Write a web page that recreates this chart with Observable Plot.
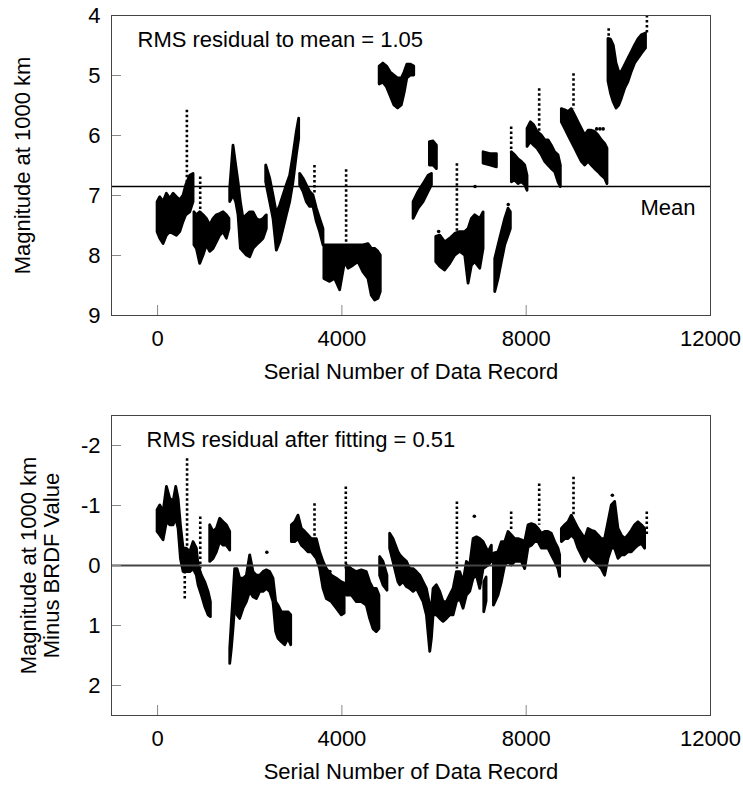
<!DOCTYPE html>
<html><head><meta charset="utf-8">
<script src="https://cdn.jsdelivr.net/npm/d3@7"></script>
<script src="https://cdn.jsdelivr.net/npm/@observablehq/plot@0.6"></script>
<style>
html,body{margin:0;padding:0;background:#fff;}
#chart svg{display:block;}
</style>
</head><body><div id="chart"></div>
<script>
// ---- axes / labels ----
const xDomain = [-1000, 12000];
const xTicks = [0, 4000, 8000, 12000];
const topYDomain = [9, 4];
const topYTicks = [4, 5, 6, 7, 8, 9];
const bottomYDomain = [2.5, -2.5];
const bottomYTicks = [-2, -1, 0, 1, 2];
const xTitle = "Serial Number of Data Record";
const topYTitle = "Magnitude at 1000 km";
const bottomYTitle = "Magnitude at 1000 km\nMinus BRDF Value";
const topNote = "RMS residual to mean = 1.05";
const bottomNote = "RMS residual after fitting = 0.51";
const meanLabel = "Mean";
const meanMagnitude = 6.85;
const zeroResidual = 0;

// ---- top panel: [segment, serial, upper magnitude, lower magnitude] ----
const topBands = [
  [1,0,7.11,7.61],[1,58,7.03,7.72],[1,130,7.11,7.81],[1,202,6.97,7.67],[1,275,7.06,7.61],[1,347,6.97,7.64],
  [1,419,7.03,7.67],[1,492,7.08,7.61],[1,564,7.0,7.44],[1,622,6.83,7.33],[1,709,6.67,7.28],[1,781,6.64,7.11],
  [2,800,7.28,7.83],[2,853,7.33,7.89],[2,925,7.28,8.14],[2,998,7.33,8.0],[2,1070,7.39,7.83],[2,1142,7.5,7.94],
  [2,1215,7.39,7.89],[2,1287,7.33,7.78],[2,1359,7.31,7.67],[2,1432,7.28,7.61],[2,1504,7.33,7.72],[2,1560,7.39,7.56],
  [3,1576,6.89,7.11],[3,1648,6.17,7.0],[3,1706,6.5,7.11],[3,1757,6.78,7.33],[3,1808,7.11,7.89],[3,1865,7.39,7.94],
  [3,1938,7.33,8.0],[3,2010,7.28,8.03],[3,2082,7.28,7.89],[3,2155,7.39,7.83],[3,2227,7.42,7.78],[3,2299,7.39,7.72],[3,2371,7.33,7.56],
  [4,2357,6.5,6.78],[4,2444,6.72,7.11],[4,2516,7.0,7.39],[4,2588,7.3,7.92],[4,2661,7.17,7.78],[4,2733,7.0,7.56],
  [4,2805,6.83,7.33],[4,2878,6.67,7.11],[4,2950,6.33,6.78],[4,3022,5.94,6.33],[4,3073,5.72,6.06],
  [5,3094,6.64,6.83],[5,3167,6.72,6.94],[5,3239,6.83,7.11],[5,3311,6.94,7.19],[5,3384,7.0,7.19],[5,3456,7.22,7.44],
  [5,3528,7.39,7.61],[5,3601,7.56,7.83],
  [6,3620,7.83,8.39],[6,3745,7.83,8.44],[6,3854,7.83,8.39],[6,3962,7.83,8.58],[6,4070,7.83,8.11],[6,4143,7.83,8.22],
  [6,4251,7.83,8.17],[6,4360,7.83,8.11],[6,4468,7.83,8.28],[6,4577,7.81,8.39],[6,4649,7.89,8.67],[6,4721,7.89,8.75],
  [6,4793,7.94,8.72],[6,4844,8.0,8.61],
  [7,4820,4.85,5.15],[7,4900,4.8,5.12],[7,4980,4.85,5.2],[7,5060,4.95,5.35],[7,5140,5.0,5.5],[7,5220,5.05,5.55],
  [7,5300,5.05,5.5],[7,5360,4.95,5.3],[7,5420,4.82,5.05],[7,5500,4.82,5.0],[7,5570,4.85,5.0],
  [8,5556,7.11,7.39],[8,5665,6.94,7.22],[8,5773,6.81,7.11],[8,5882,6.67,6.94],[8,5954,6.64,6.83],
  [9,5910,6.11,6.5],[9,5990,6.1,6.5],[9,6062,6.17,6.56],
  [10,6048,7.69,8.11],[10,6135,7.67,8.19],[10,6243,7.78,8.25],[10,6352,7.72,8.14],[10,6460,7.64,8.0],[10,6568,7.61,7.94],
  [10,6677,7.61,8.0],[10,6749,7.56,8.47],[10,6821,7.39,8.17],[10,6894,7.33,8.11],[10,7002,7.39,8.22],[10,7075,7.28,7.89],
  [11,7075,6.28,6.47],[11,7220,6.31,6.5],[11,7364,6.31,6.53],
  [12,7328,8.06,8.61],[12,7400,7.83,8.39],[12,7472,7.61,8.11],[12,7545,7.39,7.83],[12,7617,7.22,7.67],[12,7667,7.28,7.56],
  [13,7689,6.28,6.78],[13,7761,6.33,6.75],[13,7834,6.4,6.81],[13,7906,6.44,6.78],[13,7978,6.5,6.83],[13,8029,6.67,6.92],
  [14,8029,5.89,6.19],[14,8101,5.78,6.11],[14,8174,5.83,6.17],[14,8246,5.94,6.22],[14,8340,6.0,6.33],[14,8412,6.08,6.44],
  [14,8484,6.08,6.5],[14,8556,6.17,6.56],[14,8629,6.28,6.61],[14,8701,6.33,6.78],[14,8752,6.5,6.86],
  [15,8774,5.56,5.78],[15,8846,5.58,5.89],[15,8918,5.61,6.0],[15,8990,5.56,6.11],[15,9063,5.67,6.22],[15,9135,5.78,6.33],
  [15,9207,5.89,6.44],[15,9280,6.0,6.5],[15,9352,5.92,6.44],[15,9424,5.92,6.5],[15,9497,5.94,6.56],[15,9569,6.0,6.61],
  [15,9641,6.08,6.67],[15,9713,6.14,6.72],[15,9764,6.22,6.81],
  [16,9786,4.39,5.1],[16,9840,4.4,5.3],[16,9900,4.5,5.45],[16,9960,4.8,5.55],[16,10020,4.95,5.5],[16,10075,4.94,5.39],
  [16,10147,4.83,5.22],[16,10219,4.72,5.11],[16,10292,4.61,4.94],[16,10364,4.5,4.8],[16,10436,4.4,4.72],
  [16,10509,4.33,4.64],[16,10600,4.3,4.55]
];
// sparse dotted streaks: [serial, upper, lower]
const topStreaks = [
  [636,5.58,6.9],[925,6.69,7.3],[3405,6.5,7.0],[4092,6.57,7.83],[6496,6.47,7.6],[7674,5.86,6.3],
  [8282,5.22,6.0],[9027,4.97,5.56],[9790,4.22,4.4],[10620,4.0,4.3]
];
const topDots = [[6890,6.85],[9530,5.89],[9600,5.89],[9670,5.89],[7610,7.15],[6100,7.6]];

// ---- bottom panel: [segment, serial, upper residual, lower residual] ----
const bottomBands = [
  [1,0,-0.92,-0.56],[1,58,-1.0,-0.5],[1,130,-0.89,-0.42],[1,203,-1.31,-0.72],[1,275,-1.11,-0.67],[1,347,-1.06,-0.67],
  [1,405,-1.31,-0.78],[1,456,-1.11,-0.61],[1,507,-0.67,-0.11],[1,564,-0.28,0.11],[1,636,-0.28,0.11],[1,709,-0.22,0.11],
  [1,781,-0.39,0.06],[1,853,-0.28,0.17],[1,889,0,0.33],[1,962,0.17,0.5],[1,1034,0.28,0.69],[1,1106,0.44,0.83],[1,1157,0.61,0.86],
  [2,1142,-0.67,-0.06],[2,1215,-0.56,-0.11],[2,1287,-0.61,-0.22],[2,1359,-0.78,-0.39],[2,1432,-0.72,-0.33],
  [2,1504,-0.67,-0.33],[2,1576,-0.56,-0.25],
  [3,1577,1.39,1.64],[3,1612,0.94,1.39],[3,1648,0.5,1.06],[3,1684,0.06,0.67],[3,1735,0.06,0.83],[3,1793,0.22,0.89],
  [3,1865,0.22,0.72],[3,1938,0.17,0.61],[3,2010,-0.17,0.44],[3,2082,0.11,0.53],[3,2155,0.17,0.56],[3,2227,0.17,0.44],
  [3,2299,0.11,0.44],[3,2371,0.08,0.39],[3,2444,0.11,0.44],[3,2516,0.22,0.61],[3,2574,0.61,1.11],[3,2624,0.67,1.22],
  [3,2697,0.78,1.28],[3,2769,0.78,1.33],[3,2841,0.78,1.22],[3,2900,0.83,1.33],
  [4,2914,-0.67,-0.39],[4,2986,-0.72,-0.39],[4,3058,-0.83,-0.44],[4,3131,-0.61,-0.33],[4,3203,-0.56,-0.28],
  [4,3275,-0.5,-0.22],[4,3348,-0.44,-0.22],[4,3456,-0.44,-0.11],[4,3528,-0.22,0.06],[4,3601,-0.06,0.39],
  [4,3673,0.06,0.56],[4,3782,0.17,0.61],[4,3890,0.22,0.72],[4,3999,0.28,0.83],[4,4060,0.3,0.8],
  [5,4107,0,0.5],[5,4215,0.06,0.5],[5,4324,0.11,0.61],[5,4432,0.08,0.61],[5,4541,0.11,0.67],[5,4613,0.28,0.89],
  [5,4685,0.39,1.06],[5,4757,0.39,1.11],[5,4815,0.5,1.06],
  [6,4830,-0.14,0.17],[6,4902,-0.06,0.33],[6,4989,0.17,0.42],
  [7,5047,-0.53,-0.28],[7,5119,-0.44,-0.06],[7,5228,-0.22,0.28],[7,5267,-0.17,0.33],[7,5339,-0.11,0.28],
  [7,5412,-0.06,0.36],[7,5484,0.06,0.39],[7,5556,0.06,0.44],[7,5628,0.11,0.39],[7,5701,0.17,0.5],[7,5773,0.28,0.61],
  [7,5845,0.39,0.83],[7,5918,0.67,1.44],[7,5954,0.72,1.22],[7,5990,0.39,0.83],[7,6062,0.33,0.83],[7,6135,0.44,0.89],
  [7,6207,0.61,0.94],[7,6280,0.61,0.89],[7,6352,0.5,0.83],[7,6424,0.39,0.83],[7,6496,0.11,0.61],[7,6568,0.11,0.56],
  [7,6641,0.28,0.72],[7,6713,-0.06,0.5],[7,6785,0,0.44],[7,6858,-0.44,0.22],[7,6930,-0.47,0.17],[7,7002,-0.44,0.39],
  [7,7075,-0.39,0.06],[7,7183,-0.22,0.0],[7,7255,-0.33,-0.06],
  [8,7090,0.28,0.78],[8,7140,0.2,0.6],
  [9,7300,-0.2,0.67],[9,7400,-0.22,0.5],[9,7472,-0.39,0.28],[9,7545,-0.39,0],[9,7617,-0.56,-0.06],[9,7689,-0.5,0],
  [9,7761,-0.44,-0.06],[9,7834,-0.44,-0.06],[9,7906,-0.42,-0.06],[9,7978,-0.39,0.06],[9,8051,-0.67,-0.3],
  [9,8123,-0.69,-0.33],[9,8195,-0.67,-0.39],[9,8268,-0.61,-0.39],[9,8340,-0.53,-0.28],[9,8412,-0.56,-0.28],
  [9,8484,-0.56,-0.28],[9,8556,-0.53,-0.17],[9,8629,-0.39,-0.06],[9,8701,-0.28,0.06],[9,8737,-0.17,0.19],
  [10,8774,-0.61,-0.39],[10,8846,-0.67,-0.44],[10,8918,-0.72,-0.44],[10,8990,-0.83,-0.5],[10,9063,-0.72,-0.44],
  [10,9135,-0.61,-0.28],[10,9207,-0.53,-0.17],[10,9280,-0.44,-0.06],[10,9352,-0.61,-0.17],[10,9424,-0.58,-0.11],
  [10,9497,-0.56,-0.06],[10,9569,-0.5,0],[10,9641,-0.44,0.06],[10,9713,-0.44,0.17],[10,9786,-0.72,-0.11],
  [10,9858,-1.0,-0.28],[10,9930,-1.06,-0.28],[10,10003,-0.61,-0.11],[10,10075,-0.5,-0.17],[10,10147,-0.44,-0.17],
  [10,10219,-0.5,-0.22],[10,10292,-0.58,-0.22],[10,10364,-0.67,-0.28],[10,10436,-0.72,-0.33],[10,10509,-0.67,-0.36],
  [10,10581,-0.61,-0.28]
];
const bottomStreaks = [
  [640,-1.78,-0.3],[590,0.1,0.56],[926,-0.81,0.06],[3406,-1.03,-0.39],[4085,-1.31,0.06],[6496,-1.06,0.06],
  [7674,-0.89,-0.56],[8282,-1.36,-0.67],[9027,-1.47,-0.83],[10617,-0.89,-0.5]
];
const bottomDots = [[2371,-0.22],[6875,-0.82],[9870,-1.17],[3740,0.1]];

const FONT = "'Liberation Sans', Arial, Helvetica, sans-serif";
const FS = 22;
const fmt = d => String(d);

function panel(o) {
  const rows = o.bands.map(([seg, s, a, b]) => ({seg, s, a, b}));
  return Plot.plot({
    width: 743, height: o.height,
    marginLeft: 111, marginRight: 33, marginTop: 15, marginBottom: o.marginBottom,
    style: {fontFamily: FONT, fontSize: FS + "px", color: "#000", background: "#fff", overflow: "visible"},
    x: {domain: xDomain},
    y: {domain: o.yDomain},
    marks: [
      Plot.area(rows, {x1: "s", y1: "a", y2: "b", z: "seg", fill: "#000", stroke: "#000", strokeWidth: 2.8, strokeLinejoin: "round", curve: "linear"}),
      Plot.ruleX(o.streaks, {x: d => d[0], y1: d => d[1], y2: d => d[2], stroke: "#000", strokeWidth: 2.6, strokeDasharray: "2.5,2.5"}),
      Plot.dot(o.dots, {x: d => d[0], y: d => d[1], r: 1.8, fill: "#000"}),
      Plot.ruleY([o.refValue], {stroke: o.refStroke, strokeWidth: o.refWidth}),
      Plot.axisX(xTicks, {tickSize: -10, stroke: "#888", fill: "none", label: null}),
      Plot.axisX(xTicks, {tickSize: 0, tickPadding: 15, fontSize: FS, tickFormat: fmt, label: null}),
      Plot.axisY(o.yTicks, {tickSize: -10, stroke: "#888", fill: "none", label: null}),
      Plot.axisY(o.yTicks, {tickSize: 0, tickPadding: 11, fontSize: FS, tickFormat: fmt, label: null}),
      Plot.frame({stroke: "#444"}),
      Plot.text([xTitle], {frameAnchor: "bottom", textAnchor: "middle", lineAnchor: "middle", dy: 56, text: d => d, fontSize: FS}),
      Plot.text([o.yTitle], {frameAnchor: "left", textAnchor: "middle", lineAnchor: "middle", rotate: -90, dx: o.yTitleDx, text: d => d, fontSize: FS, lineHeight: 1.05}),
      Plot.text([o.note], {frameAnchor: "top-left", textAnchor: "start", lineAnchor: "middle", dx: o.noteDx, dy: 24, text: d => d, fontSize: FS}),
      ...(o.extra || [])
    ]
  });
}

const topChart = panel({
  bands: topBands, streaks: topStreaks, dots: topDots,
  yDomain: topYDomain, yTicks: topYTicks,
  refValue: meanMagnitude, refStroke: "#000", refWidth: 1.6,
  yTitle: topYTitle, yTitleDx: -89, note: topNote, noteDx: 26,
  height: 400, marginBottom: 85,
  extra: [Plot.text([meanMagnitude], {y: d => d, frameAnchor: "right", textAnchor: "end", lineAnchor: "middle", dx: -15, dy: 21, text: () => meanLabel, fontSize: FS})]
});
const bottomChart = panel({
  bands: bottomBands, streaks: bottomStreaks, dots: bottomDots,
  yDomain: bottomYDomain, yTicks: bottomYTicks,
  refValue: zeroResidual, refStroke: "#444", refWidth: 2,
  yTitle: bottomYTitle, yTitleDx: -71, note: bottomNote, noteDx: 35,
  height: 385, marginBottom: 70
});
const root = document.getElementById("chart");
root.appendChild(topChart);
root.appendChild(bottomChart);
</script>
</body></html>
